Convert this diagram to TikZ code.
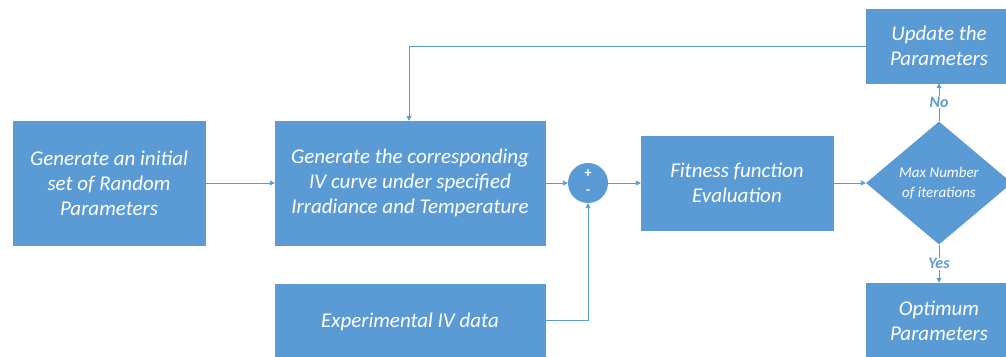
\documentclass[tikz,border=0pt]{standalone}
\usepackage{fontspec}
\setmainfont{Carlito}
\usetikzlibrary{arrows.meta,shapes.geometric}
\definecolor{obl}{HTML}{5B9BD5}
\begin{document}
\begin{tikzpicture}[x=1pt,y=1pt,
  box/.style={fill=obl,draw=obl,text=white,font=\itshape\fontsize{21}{25}\selectfont,align=center,inner sep=0pt},
  conn/.style={draw=obl,line width=0.9pt,-{Triangle[length=5pt,width=5pt]}},
  lbl/.style={text=obl,font=\bfseries\itshape\fontsize{16}{18}\selectfont}]
\useasboundingbox (0,0) rectangle (1006,356);
\clip (0,0) rectangle (1006,356);
\node[box,minimum width=192,minimum height=124] (init) at (109,173) {Generate an initial\\set of Random\\Parameters};
\node[box,minimum width=270,minimum height=124] (gen) at (410,173) {Generate the corresponding\\IV curve under specified\\Irradiance and Temperature};
\node[circle,fill=obl,minimum size=40,inner sep=0pt] (sum) at (588,173) {};
\node[text=white,font=\bfseries\fontsize{14}{14}\selectfont] (plus) at (588,182) {+};
\node[text=white,font=\bfseries\fontsize{14}{14}\selectfont] (minus) at (588,164) {-};
\node[box,minimum width=192,minimum height=94] (fit) at (737,173) {Fitness function\\Evaluation};
\node[diamond,fill=obl,text=white,inner sep=0pt,minimum width=146,minimum height=123,font=\itshape\fontsize{15}{20}\selectfont,align=center] (dec) at (939,173) {Max Number\\of iterations};
\node[box,minimum width=146,minimum height=74] (upd) at (939,310) {Update the\\Parameters};
\node[box,minimum width=146,minimum height=76] (opt) at (939,35) {Optimum\\Parameters};
\node[box,minimum width=270,minimum height=76] (exp) at (410,34) {Experimental IV data};
\coordinate (fb) at (409,310);
\coordinate (ec) at (588,36);
\draw[conn] (init) -- (gen);
\draw[conn] (gen.east) -- (sum.west);
\draw[conn] (sum.east) -- (fit.west);
\draw[conn] (fit.east) -- (dec.west);
\draw[conn] (dec.north) -- node[lbl,fill=white,inner sep=1pt]{No} (upd.south);
\draw[conn] (dec.south) -- node[lbl,fill=white,inner sep=1pt]{Yes} (opt.north);
\draw[conn] (upd.west) -- (fb) -- (gen.north -| fb);
\draw[conn] (exp.east |- ec) -- (ec) -- (sum.south);
\end{tikzpicture}
\end{document}
